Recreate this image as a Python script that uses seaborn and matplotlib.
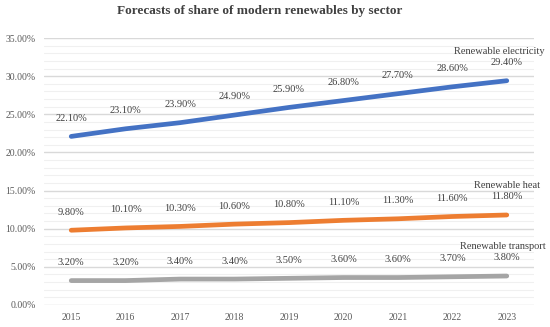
import pandas as pd
import matplotlib.pyplot as plt
import seaborn as sns
from matplotlib.ticker import MultipleLocator, FuncFormatter

# data
years = ["2015", "2016", "2017", "2018", "2019", "2020", "2021", "2022", "2023"]
electricity = [22.1, 23.1, 23.9, 24.9, 25.9, 26.8, 27.7, 28.6, 29.4]
heat = [9.8, 10.1, 10.3, 10.6, 10.8, 11.1, 11.3, 11.6, 11.8]
transport = [3.2, 3.2, 3.4, 3.4, 3.5, 3.6, 3.6, 3.7, 3.8]
series_names = ["Renewable electricity", "Renewable heat", "Renewable transport"]
colors = ["#4472C4", "#ED7D31", "#A5A5A5"]

sns.set_style("white")
plt.rcParams['font.family'] = ['Liberation Serif', 'DejaVu Serif']

# long format for seaborn
df = pd.DataFrame({
    "x": list(range(len(years))) * 3,
    "value": electricity + heat + transport,
    "series": [n for n in series_names for _ in years],
})

fig = plt.figure(figsize=(5.5, 3.27), dpi=100)
ax = fig.add_axes([44 / 550, 22 / 327, 490 / 550, 267 / 327])

sns.lineplot(data=df, x="x", y="value", hue="series", palette=colors,
             linewidth=3.4, legend=False, ax=ax, solid_capstyle="round")

# data labels above each point
for vals in [electricity, heat, transport]:
    for i, v in enumerate(vals):
        ax.annotate(f"{v:.2f}%", (i, v), xytext=(0, 13), textcoords="offset points",
                    ha="center", va="center", fontsize=7.5, color="#404040")

# series name labels at the right end
offsets = [(27, 21), (24, 21.5), (28, 21)]
for name, vals, off in zip(series_names, [electricity, heat, transport], offsets):
    ax.annotate(name, (8, vals[-1]), xytext=off, textcoords="offset points",
                ha="right", va="center", fontsize=7.5, color="#404040",
                annotation_clip=False)

ax.set_xlim(-0.5, 8.5)
ax.set_ylim(0, 35)
ax.set_xticks(range(len(years)))
ax.set_xticklabels(years)
ax.yaxis.set_major_locator(MultipleLocator(5))
ax.yaxis.set_minor_locator(MultipleLocator(1))
ax.yaxis.set_major_formatter(FuncFormatter(lambda v, p: f"{v:.2f}%"))
ax.grid(which="major", axis="y", color="#d9d9d9", linewidth=1)
ax.grid(which="minor", axis="y", color="#f0f0f0", linewidth=0.8)
ax.set_axisbelow(True)
ax.tick_params(axis="both", which="both", length=0, labelsize=7, colors="#595959", pad=6)
ax.set_xlabel("")
ax.set_ylabel("")
for s in ax.spines.values():
    s.set_visible(False)

fig.suptitle("Forecasts of share of modern renewables by sector", fontsize=9.5,
             fontweight="bold", color="#404040", x=0.473, y=0.985)

fig.savefig("out.png", dpi=100)
